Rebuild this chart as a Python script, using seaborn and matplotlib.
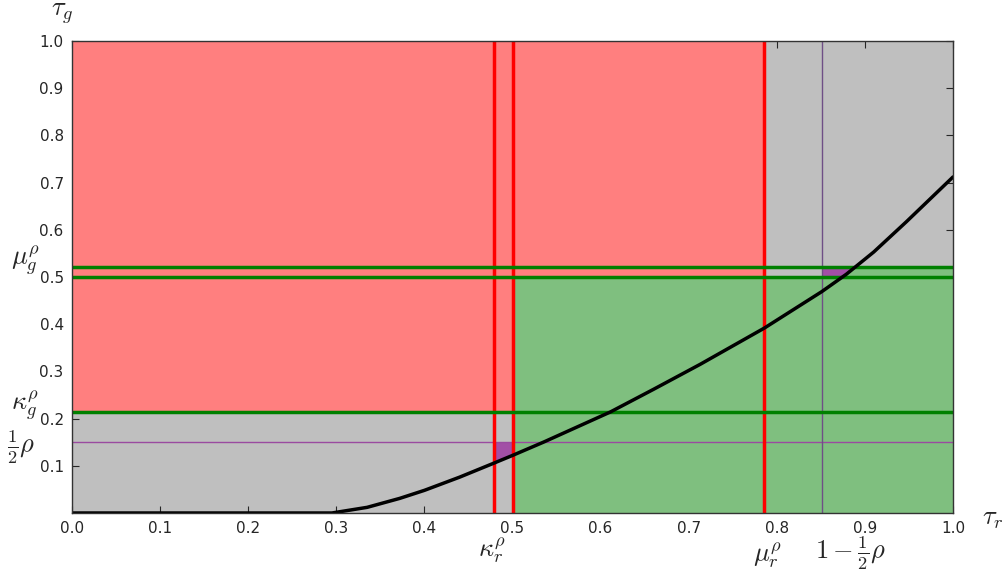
import numpy as np
import pandas as pd
import matplotlib
matplotlib.use("Agg")
import matplotlib.pyplot as plt
import seaborn as sns

# thresholds
kappa_r = 0.479
half_r = 0.5
mu_r = 0.786
one_minus_half_rho = 0.851
kappa_g = 0.214
half_g = 0.5
mu_g = 0.522
half_rho = 0.15

# black curve, read point by point
curve_x = [0.0, 0.295, 0.335, 0.372, 0.4, 0.44, 0.478, 0.5, 0.535, 0.611, 0.66,
           0.713, 0.786, 0.851, 0.879, 0.910, 0.947, 1.0]
curve_y = [0.0, 0.0, 0.012, 0.031, 0.048, 0.076, 0.105, 0.122, 0.150, 0.214, 0.262,
           0.315, 0.392, 0.469, 0.506, 0.553, 0.617, 0.712]

tick_vals = [0.0, 0.1, 0.2, 0.3, 0.4, 0.5, 0.6, 0.7, 0.8, 0.9, 1.0]

sns.set_style("ticks", {"xtick.direction": "in", "ytick.direction": "in"})
plt.rcParams["mathtext.fontset"] = "cm"
plt.rcParams["font.family"] = ["DejaVu Sans"]

fig = plt.figure(figsize=(10.07, 5.73), dpi=100)
ax = fig.add_axes([0.0715, 0.1047, 0.8749, 0.8237])
ax.set_facecolor("#bfbfbf")

red_c = "#ff7f7f"
green_c = "#7fbf7f"
purple_c = "#a24fa6"

def curve(x):
    return np.interp(x, curve_x, curve_y)

# red area, then green on top
ax.fill_between([0, mu_r], kappa_g, 1, color=red_c, lw=0)
ax.fill_between([half_r, 1], 0, half_g, color=green_c, lw=0)
xs = np.linspace(0.85, 1, 200)
ax.fill_between(xs, half_g, np.clip(curve(xs), half_g, mu_g), color=green_c, lw=0)

# purple patches
xs1 = np.linspace(kappa_r, half_r, 50)
ax.fill_between(xs1, curve(xs1), half_rho, color=purple_c, lw=0)
xs2 = np.linspace(one_minus_half_rho, 0.9, 200)
lo = np.clip(curve(xs2), half_g, mu_g)
ax.fill_between(xs2, lo, mu_g, where=lo < mu_g, color=purple_c, lw=0)

# thin purple guides
ax.axhline(half_rho, color="#9a4aa0", lw=1)
ax.axvline(one_minus_half_rho, color="#6f4f86", lw=1)

# threshold lines
for v in [kappa_r, half_r, mu_r]:
    ax.axvline(v, color="red", lw=2.5)
for v in [kappa_g, half_g, mu_g]:
    ax.axhline(v, color="green", lw=2.5)

df = pd.DataFrame({"x": curve_x, "y": curve_y})
sns.lineplot(data=df, x="x", y="y", ax=ax, color="black", lw=2.5, sort=False)

ax.set_xlim(0, 1)
ax.set_ylim(0, 1)
ax.set_xticks(tick_vals)
ax.set_yticks(tick_vals[1:])
ax.set_xticklabels([f"{t:.1f}" for t in tick_vals])
ax.set_yticklabels([f"{t:.1f}" for t in tick_vals[1:]])
ax.tick_params(top=True, right=True, direction="in", labelsize=11, length=5,
               pad=6)
ax.set_xlabel("")
ax.set_ylabel("")
for s in ax.spines.values():
    s.set_color("#333333")
    s.set_linewidth(1)

fs = 19
ax.text(-0.011, 1.06, r"$\tau_g$", fontsize=fs, ha="center", va="center", clip_on=False)
ax.text(1.045, -0.01, r"$\tau_r$", fontsize=fs, ha="center", va="center", clip_on=False)
ax.text(-0.053, 0.535, r"$\mu_g^\rho$", fontsize=fs, ha="center", va="center", clip_on=False)
ax.text(-0.053, 0.228, r"$\kappa_g^\rho$", fontsize=fs, ha="center", va="center", clip_on=False)
ax.text(-0.058, 0.14, r"$\frac{1}{2}\rho$", fontsize=fs, ha="center", va="center", clip_on=False)
ax.text(0.477, -0.078, r"$\kappa_r^\rho$", fontsize=fs, ha="center", va="center", clip_on=False)
ax.text(0.789, -0.09, r"$\mu_r^\rho$", fontsize=fs, ha="center", va="center", clip_on=False)
ax.text(0.884, -0.085, r"$1-\frac{1}{2}\rho$", fontsize=fs, ha="center", va="center", clip_on=False)

fig.savefig("out.png", dpi=100)
